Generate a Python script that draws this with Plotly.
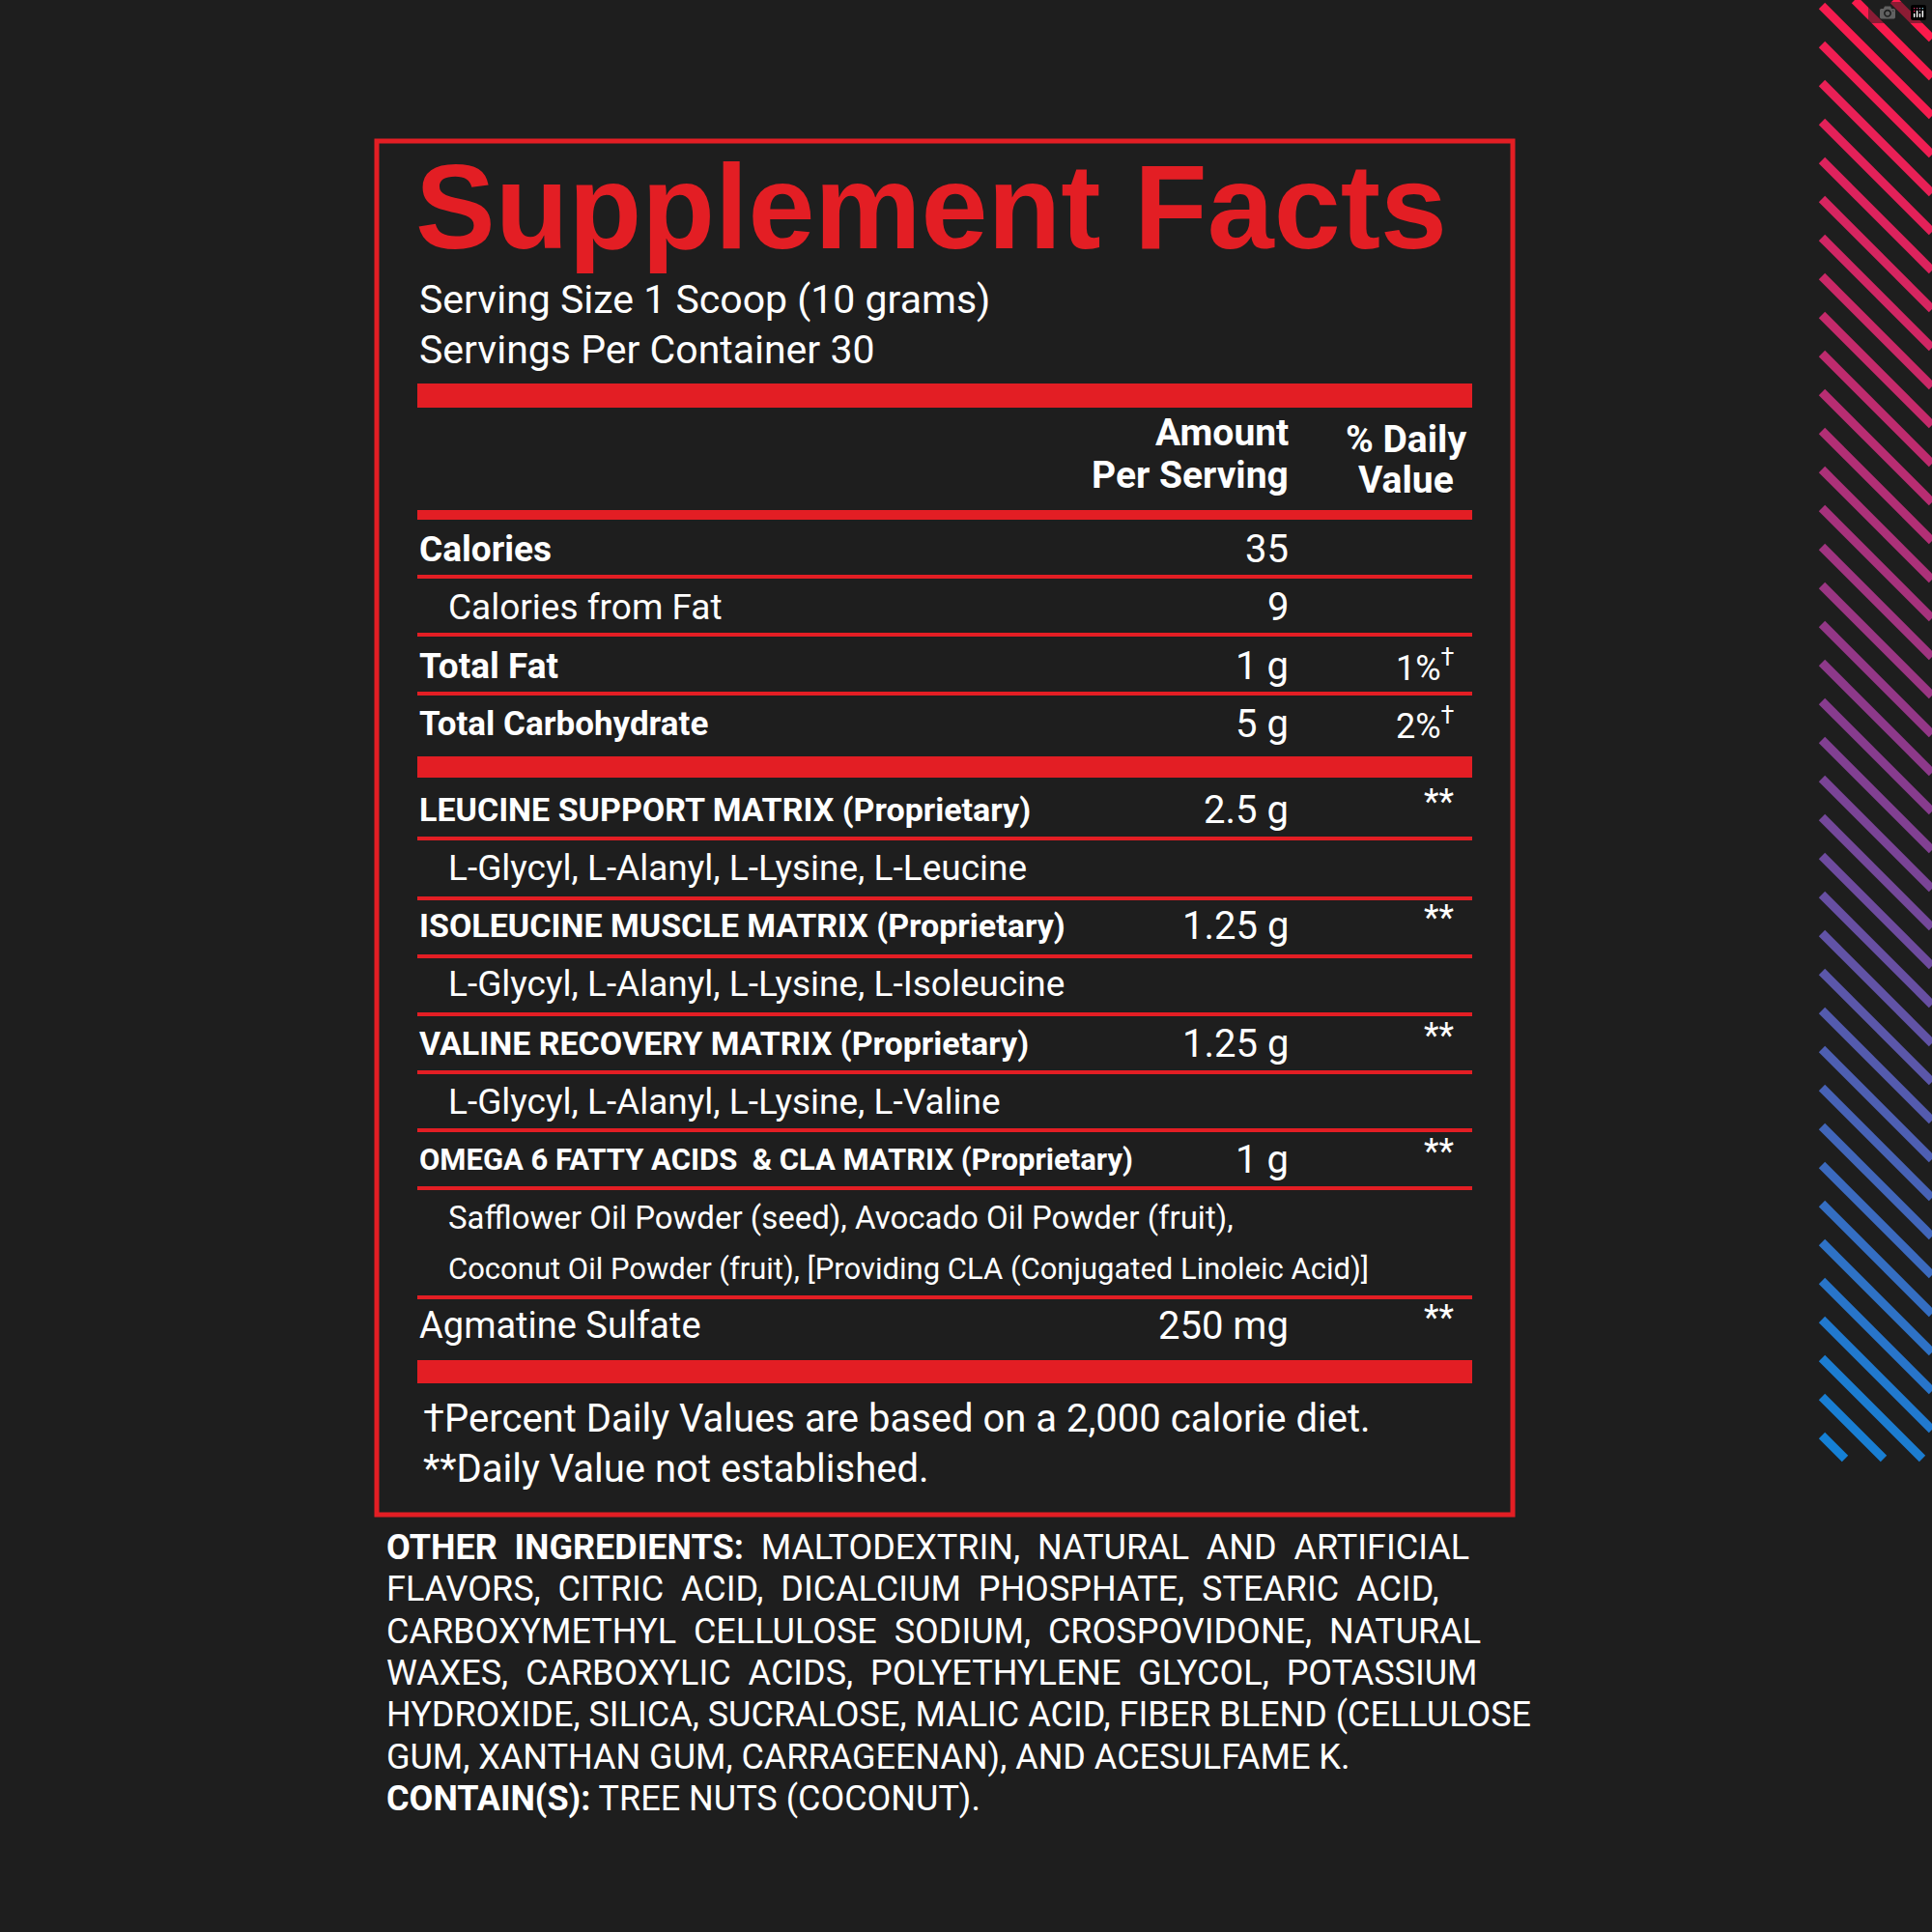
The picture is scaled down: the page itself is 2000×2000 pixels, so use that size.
import plotly.graph_objects as go

RED = "#e31e24"
BG = "#1e1e1e"
FONT = "Roboto"

title = "Supplement Facts"
serving = ["Serving Size 1 Scoop (10 grams)", "Servings Per Container 30"]
header_amount = ["Amount", "Per Serving"]
header_dv = ["% Daily", "Value"]

rows_labels = ["<b>Calories</b>", "Calories from Fat", "<b>Total Fat</b>", "<b>Total Carbohydrate</b>",
               "<b>LEUCINE SUPPORT MATRIX (Proprietary)</b>", "L-Glycyl, L-Alanyl, L-Lysine, L-Leucine",
               "<b>ISOLEUCINE MUSCLE MATRIX (Proprietary)</b>", "L-Glycyl, L-Alanyl, L-Lysine, L-Isoleucine",
               "<b>VALINE RECOVERY MATRIX (Proprietary)</b>", "L-Glycyl, L-Alanyl, L-Lysine, L-Valine",
               "<b>OMEGA 6 FATTY ACIDS  & CLA MATRIX (Proprietary)</b>",
               "Safflower Oil Powder (seed), Avocado Oil Powder (fruit),",
               "Coconut Oil Powder (fruit), [Providing CLA (Conjugated Linoleic Acid)]",
               "Agmatine Sulfate"]
rows_amount = ["35", "9", "1 g", "5 g", "2.5 g", "", "1.25 g", "", "1.25 g", "", "1 g", "", "", "250 mg"]
rows_dv = ["", "", "1%<sup>†</sup>", "2%<sup>†</sup>", "**", "", "**", "", "**", "", "**", "", "", "**"]
rows_y = [568, 628, 689, 749, 838, 898, 958, 1018, 1080, 1140, 1200, 1260, 1313, 1372]
rows_indent = [0, 1, 0, 0, 0, 1, 0, 1, 0, 1, 0, 1, 1, 0]
rows_size = [37, 37, 37, 35, 34, 37, 34, 37, 34, 37, 31, 33, 31, 38]
thin_lines_y = [597, 657, 718, 868, 930, 990, 1050, 1110, 1170, 1230, 1343]
thick_bars = [(397, 422), (528, 538), (783, 805), (1408, 1432)]

footnotes = ["†Percent Daily Values are based on a 2,000 calorie diet.", "**Daily Value not established."]
other_lines = ["<b>OTHER  INGREDIENTS:</b>  MALTODEXTRIN,  NATURAL  AND  ARTIFICIAL",
               "FLAVORS,  CITRIC  ACID,  DICALCIUM  PHOSPHATE,  STEARIC  ACID,",
               "CARBOXYMETHYL  CELLULOSE  SODIUM,  CROSPOVIDONE,  NATURAL",
               "WAXES,  CARBOXYLIC  ACIDS,  POLYETHYLENE  GLYCOL,  POTASSIUM",
               "HYDROXIDE, SILICA, SUCRALOSE, MALIC ACID, FIBER BLEND (CELLULOSE",
               "GUM, XANTHAN GUM, CARRAGEENAN), AND ACESULFAME K.",
               "<b>CONTAIN(S):</b> TREE NUTS (COCONUT)."]

fig = go.Figure()
shapes, ann = [], []

def text(x, y, t, size, color="white", anchor="left", bold=False, family=FONT):
    ann.append(dict(x=x, y=y, xref="x", yref="y", text=f"<b>{t}</b>" if bold else t, showarrow=False,
                    xanchor=anchor, yanchor="middle", font=dict(size=size, color=color, family=family)))

shapes.append(dict(type="rect", x0=390, x1=1566, y0=146, y1=1568, line=dict(color=RED, width=5)))
text(428, 214, title, 124, RED, bold=True, family="Liberation Sans")
for i, s in enumerate(serving):
    text(432, 310 + 52 * i, s, 41)
for i, s in enumerate(header_amount):
    text(1336, 448 + 44 * i, s, 39, anchor="right", bold=True)
for i, s in enumerate(header_dv):
    text(1455, 455 + 42 * i, s, 39, anchor="center", bold=True)
for y0, y1 in thick_bars:
    shapes.append(dict(type="rect", x0=432, x1=1524, y0=y0, y1=y1, fillcolor=RED, line=dict(width=0)))
for y in thin_lines_y:
    shapes.append(dict(type="line", x0=432, x1=1524, y0=y, y1=y, line=dict(color=RED, width=4)))
for lab, am, dv, y, ind, sz in zip(rows_labels, rows_amount, rows_dv, rows_y, rows_indent, rows_size):
    text(432 + 30 * ind, y, lab, sz)
    if am:
        text(1336, y, am, 40, anchor="right")
    if dv:
        text(1508, y - (8 if dv == "**" else 0), dv, 36, anchor="right")
for i, s in enumerate(footnotes):
    text(436, 1468 + 52 * i, s, 40)
for i, s in enumerate(other_lines):
    text(398, 1602 + 43.3 * i, s, 36)

# diagonal stripes
x0s, x1s = 1886, 2000
ymax = 1510
def col(t):
    stops = [(0, (255, 26, 74)), (0.5, (140, 58, 140)), (1, (20, 130, 215))]
    for (a, ca), (b, cb) in zip(stops, stops[1:]):
        if t <= b:
            f = (t - a) / (b - a)
            return "rgb(%d,%d,%d)" % tuple(int(ca[k] + f * (cb[k] - ca[k])) for k in range(3))
    return "rgb(20,130,215)"
y0 = -114
while y0 < ymax:
    xa, ya, xb, yb = x0s, y0, x1s, y0 + 114
    if ya < 0:
        xa = x0s - ya; ya = 0
    if yb > ymax:
        xb = x1s - (yb - ymax); yb = ymax
    if xb > xa:
        shapes.append(dict(type="line", x0=xa, y0=ya, x1=xb, y1=yb,
                           line=dict(color=col(max(0, min(1, (ya + yb) / 2 / ymax))), width=9)))
    y0 += 40

fig.update_layout(width=2000, height=2000, margin=dict(l=0, r=0, t=0, b=0),
                  paper_bgcolor=BG, plot_bgcolor=BG, shapes=shapes, annotations=ann, showlegend=False,
                  xaxis=dict(range=[0, 2000], visible=False, fixedrange=True),
                  yaxis=dict(range=[2000, 0], visible=False, fixedrange=True))
fig.write_html("out.html", post_script="document.body.style.margin='0';document.body.style.background='#1e1e1e';")
